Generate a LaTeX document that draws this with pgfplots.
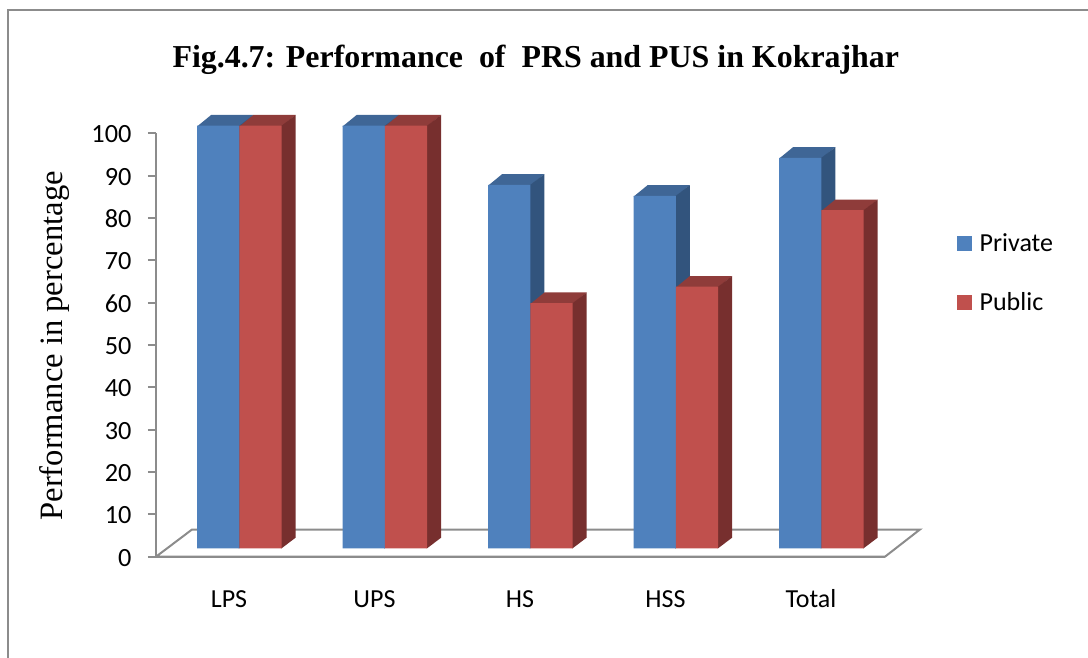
\documentclass[border=0pt]{standalone}
\usepackage{fontspec}
\setmainfont{Carlito}
\newfontfamily\serifbody{Liberation Serif}
\usepackage{pgfplots}
\pgfplotsset{compat=1.18}

\definecolor{blueF}{HTML}{4F81BD}
\definecolor{blueT}{HTML}{3F6696}
\definecolor{blueS}{HTML}{32547D}
\definecolor{redF}{HTML}{C0504D}
\definecolor{redT}{HTML}{8F3C3A}
\definecolor{redS}{HTML}{772F2E}
\definecolor{axisgray}{HTML}{8C8C8C}

% top and side face of one bar: left x, right x, value, top colour, side colour
% (the faces reach a little under the front face, so that no seam shows)
\newcommand\barfaces[5]{%
  \pgfmathsetmacro\xa{#1}%
  \pgfmathsetmacro\xb{#2}%
  \pgfmathsetmacro\xe{#2-0.004}%
  \pgfmathsetmacro\xc{#1+0.0969}%
  \pgfmathsetmacro\xd{#2+0.0969}%
  \pgfmathsetmacro\ya{#3}%
  \pgfmathsetmacro\yf{#3-0.2}%
  \pgfmathsetmacro\yb{#3+2.53}%
  \addplot[forget plot,fill=#4,draw=none] coordinates {(\xa,\yf) (\xb,\yf) (\xd,\yb) (\xc,\yb)} -- cycle;
  \addplot[forget plot,fill=#5,draw=none] coordinates {(\xe,0) (\xb,0) (\xd,2.53) (\xd,\yb) (\xb,\ya) (\xe,\ya)} -- cycle;
}
\pgfplotsset{square legend/.style={legend image code/.code={\fill[##1] (0pt,-7.5pt) rectangle (15pt,7.5pt);}}}

\begin{document}
\begin{tikzpicture}[x=1pt,y=1pt]
  \useasboundingbox (0,0) rectangle (1088,658);
  \draw[axisgray,line width=2pt] (7.5,0) -- (7.5,648) -- (1088,648);

  % axis with ticks and floor
  \begin{axis}[
    at={(156pt,101.3pt)},anchor=south west,
    scale only axis,width=729pt,height=423.4pt,
    xmin=-0.5017,xmax=4.509,ymin=0,ymax=100,
    clip=false,
    axis x line*=bottom,axis y line*=left,
    axis line style={axisgray,line width=2pt,-},
    ytick={0,10,...,100},
    xtick={0,1,2,3,4},
    xticklabels={LPS,UPS,HS,HSS,Total},
    tick align=outside,
    major tick length=8pt,
    x tick style={draw=none},
    y tick style={axisgray,line width=2pt},
    tick label style={font=\fontsize{26.3}{26.3}\selectfont,black},
    /pgf/number format/assume math mode=true,
    xticklabel style={font=\fontsize{26}{26}\selectfont,yshift=-22pt,text height=17pt,text depth=0pt},
    yticklabel style={xshift=-13pt,yshift=-1pt},
    title={\serifbody\bfseries Fig.4.7: Performance\ \ of\ \ PRS and PUS in Kokrajhar},
    title style={font=\fontsize{31.9}{32}\selectfont,at={(axis description cs:0.521,1.16)},anchor=center},
    ylabel={\serifbody Performance in percentage},
    every axis y label/.style={at={(axis description cs:-0.1385,0.498)},rotate=90,anchor=center,font=\fontsize{32.6}{33}\selectfont},
  ]
    \addplot[axisgray,line width=2pt,fill=white] coordinates {(-0.5017,0) (4.509,0) (4.749,6.42) (-0.254,6.42)} -- cycle;
  \end{axis}

  % bars, standing on the floor
  \begin{axis}[
    at={(156pt,109.7pt)},anchor=south west,
    scale only axis,width=729pt,height=422.6pt,
    xmin=-0.5725,xmax=4.4378,ymin=0,ymax=100,
    clip=false,
    hide axis,
    legend style={at={(rel axis cs:1.098,0.75)},anchor=north west,draw=none,fill=none,
      font=\fontsize{26}{26}\selectfont,row sep=36pt,inner sep=0pt,
      /tikz/every odd column/.append style={column sep=6pt}},
    legend cell align=left,
  ]
    \barfaces{-0.2907}{0}{100}{blueT}{blueS}
    \barfaces{0.7093}{1}{100}{blueT}{blueS}
    \barfaces{1.7093}{2}{86}{blueT}{blueS}
    \barfaces{2.7093}{3}{83.4}{blueT}{blueS}
    \barfaces{3.7093}{4}{92.4}{blueT}{blueS}
    \addplot[ybar,bar width=42.3pt,bar shift=-21.15pt,fill=blueF,draw=none,square legend]
      coordinates {(0,100) (1,100) (2,86) (3,83.4) (4,92.4)};
    \addlegendentry{Private}
    \barfaces{0}{0.2907}{100}{redT}{redS}
    \barfaces{1}{1.2907}{100}{redT}{redS}
    \barfaces{2}{2.2907}{58}{redT}{redS}
    \barfaces{3}{3.2907}{61.9}{redT}{redS}
    \barfaces{4}{4.2907}{80}{redT}{redS}
    \addplot[ybar,bar width=42.3pt,bar shift=21.15pt,fill=redF,draw=none,square legend]
      coordinates {(0,100) (1,100) (2,58) (3,61.9) (4,80)};
    \addlegendentry{Public}
  \end{axis}
\end{tikzpicture}
\end{document}
